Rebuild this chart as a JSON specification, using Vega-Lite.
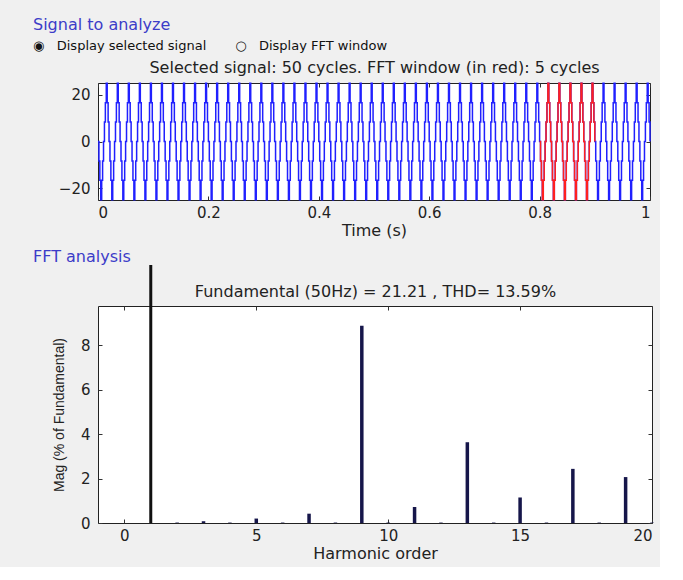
{
"$schema":"https://vega.github.io/schema/vega-lite/v6.json",
"background":"#f0f0f0",
"padding":{"left":32,"top":16,"right":5,"bottom":5},
"config":{"font":"DejaVu Sans","view":{"fill":"white","stroke":"#222222","strokeWidth":1},
"axis":{"tickSize":-4,"tickColor":"#333333","domain":false,"grid":false,"labelFont":"DejaVu Sans","labelFontSize":15,"labelColor":"#222222","labelPadding":9,"titleFont":"DejaVu Sans","titleFontSize":16,"titleFontWeight":"normal","titleColor":"#222222"},
"axisY":{"labelPadding":12},
"concat":{"spacing":9}},
"vconcat":[
{
"title":{"text":"Signal to analyze","subtitle":"◉\u00a0\u00a0\u00a0Display selected signal\u00a0\u00a0\u00a0\u00a0\u00a0\u00a0\u00a0○\u00a0\u00a0\u00a0Display FFT window","anchor":"start","frame":"group","dx":-65,"font":"DejaVu Sans","color":"#3c3cc8","fontSize":16,"fontWeight":"normal","subtitleFont":"DejaVu Sans","subtitleColor":"#111111","subtitleFontSize":13,"subtitlePadding":7,"offset":7},
"width":552,"height":117,
"data":{"values":[
{"t":0.00,"v":0},{"t":0.00167,"v":-8.3},{"t":0.00333,"v":-16.5},{"t":0.005,"v":-24.8},{"t":0.00667,"v":-16.5},{"t":0.00833,"v":-8.3},{"t":0.01,"v":0},{"t":0.01167,"v":8.3},{"t":0.01333,"v":16.5},{"t":0.015,"v":24.8},{"t":0.01667,"v":16.5},{"t":0.01833,"v":8.3},
{"t":0.02,"v":0},{"t":0.02167,"v":-8.3},{"t":0.02333,"v":-16.5},{"t":0.025,"v":-24.8},{"t":0.02667,"v":-16.5},{"t":0.02833,"v":-8.3},{"t":0.03,"v":0},{"t":0.03167,"v":8.3},{"t":0.03333,"v":16.5},{"t":0.035,"v":24.8},{"t":0.03667,"v":16.5},{"t":0.03833,"v":8.3},
{"t":0.04,"v":0},{"t":0.04167,"v":-8.3},{"t":0.04333,"v":-16.5},{"t":0.045,"v":-24.8},{"t":0.04667,"v":-16.5},{"t":0.04833,"v":-8.3},{"t":0.05,"v":0},{"t":0.05167,"v":8.3},{"t":0.05333,"v":16.5},{"t":0.055,"v":24.8},{"t":0.05667,"v":16.5},{"t":0.05833,"v":8.3},
{"t":0.06,"v":0},{"t":0.06167,"v":-8.3},{"t":0.06333,"v":-16.5},{"t":0.065,"v":-24.8},{"t":0.06667,"v":-16.5},{"t":0.06833,"v":-8.3},{"t":0.07,"v":0},{"t":0.07167,"v":8.3},{"t":0.07333,"v":16.5},{"t":0.075,"v":24.8},{"t":0.07667,"v":16.5},{"t":0.07833,"v":8.3},
{"t":0.08,"v":0},{"t":0.08167,"v":-8.3},{"t":0.08333,"v":-16.5},{"t":0.085,"v":-24.8},{"t":0.08667,"v":-16.5},{"t":0.08833,"v":-8.3},{"t":0.09,"v":0},{"t":0.09167,"v":8.3},{"t":0.09333,"v":16.5},{"t":0.095,"v":24.8},{"t":0.09667,"v":16.5},{"t":0.09833,"v":8.3},
{"t":0.10,"v":0},{"t":0.10167,"v":-8.3},{"t":0.10333,"v":-16.5},{"t":0.105,"v":-24.8},{"t":0.10667,"v":-16.5},{"t":0.10833,"v":-8.3},{"t":0.11,"v":0},{"t":0.11167,"v":8.3},{"t":0.11333,"v":16.5},{"t":0.115,"v":24.8},{"t":0.11667,"v":16.5},{"t":0.11833,"v":8.3},
{"t":0.12,"v":0},{"t":0.12167,"v":-8.3},{"t":0.12333,"v":-16.5},{"t":0.125,"v":-24.8},{"t":0.12667,"v":-16.5},{"t":0.12833,"v":-8.3},{"t":0.13,"v":0},{"t":0.13167,"v":8.3},{"t":0.13333,"v":16.5},{"t":0.135,"v":24.8},{"t":0.13667,"v":16.5},{"t":0.13833,"v":8.3},
{"t":0.14,"v":0},{"t":0.14167,"v":-8.3},{"t":0.14333,"v":-16.5},{"t":0.145,"v":-24.8},{"t":0.14667,"v":-16.5},{"t":0.14833,"v":-8.3},{"t":0.15,"v":0},{"t":0.15167,"v":8.3},{"t":0.15333,"v":16.5},{"t":0.155,"v":24.8},{"t":0.15667,"v":16.5},{"t":0.15833,"v":8.3},
{"t":0.16,"v":0},{"t":0.16167,"v":-8.3},{"t":0.16333,"v":-16.5},{"t":0.165,"v":-24.8},{"t":0.16667,"v":-16.5},{"t":0.16833,"v":-8.3},{"t":0.17,"v":0},{"t":0.17167,"v":8.3},{"t":0.17333,"v":16.5},{"t":0.175,"v":24.8},{"t":0.17667,"v":16.5},{"t":0.17833,"v":8.3},
{"t":0.18,"v":0},{"t":0.18167,"v":-8.3},{"t":0.18333,"v":-16.5},{"t":0.185,"v":-24.8},{"t":0.18667,"v":-16.5},{"t":0.18833,"v":-8.3},{"t":0.19,"v":0},{"t":0.19167,"v":8.3},{"t":0.19333,"v":16.5},{"t":0.195,"v":24.8},{"t":0.19667,"v":16.5},{"t":0.19833,"v":8.3},
{"t":0.20,"v":0},{"t":0.20167,"v":-8.3},{"t":0.20333,"v":-16.5},{"t":0.205,"v":-24.8},{"t":0.20667,"v":-16.5},{"t":0.20833,"v":-8.3},{"t":0.21,"v":0},{"t":0.21167,"v":8.3},{"t":0.21333,"v":16.5},{"t":0.215,"v":24.8},{"t":0.21667,"v":16.5},{"t":0.21833,"v":8.3},
{"t":0.22,"v":0},{"t":0.22167,"v":-8.3},{"t":0.22333,"v":-16.5},{"t":0.225,"v":-24.8},{"t":0.22667,"v":-16.5},{"t":0.22833,"v":-8.3},{"t":0.23,"v":0},{"t":0.23167,"v":8.3},{"t":0.23333,"v":16.5},{"t":0.235,"v":24.8},{"t":0.23667,"v":16.5},{"t":0.23833,"v":8.3},
{"t":0.24,"v":0},{"t":0.24167,"v":-8.3},{"t":0.24333,"v":-16.5},{"t":0.245,"v":-24.8},{"t":0.24667,"v":-16.5},{"t":0.24833,"v":-8.3},{"t":0.25,"v":0},{"t":0.25167,"v":8.3},{"t":0.25333,"v":16.5},{"t":0.255,"v":24.8},{"t":0.25667,"v":16.5},{"t":0.25833,"v":8.3},
{"t":0.26,"v":0},{"t":0.26167,"v":-8.3},{"t":0.26333,"v":-16.5},{"t":0.265,"v":-24.8},{"t":0.26667,"v":-16.5},{"t":0.26833,"v":-8.3},{"t":0.27,"v":0},{"t":0.27167,"v":8.3},{"t":0.27333,"v":16.5},{"t":0.275,"v":24.8},{"t":0.27667,"v":16.5},{"t":0.27833,"v":8.3},
{"t":0.28,"v":0},{"t":0.28167,"v":-8.3},{"t":0.28333,"v":-16.5},{"t":0.285,"v":-24.8},{"t":0.28667,"v":-16.5},{"t":0.28833,"v":-8.3},{"t":0.29,"v":0},{"t":0.29167,"v":8.3},{"t":0.29333,"v":16.5},{"t":0.295,"v":24.8},{"t":0.29667,"v":16.5},{"t":0.29833,"v":8.3},
{"t":0.30,"v":0},{"t":0.30167,"v":-8.3},{"t":0.30333,"v":-16.5},{"t":0.305,"v":-24.8},{"t":0.30667,"v":-16.5},{"t":0.30833,"v":-8.3},{"t":0.31,"v":0},{"t":0.31167,"v":8.3},{"t":0.31333,"v":16.5},{"t":0.315,"v":24.8},{"t":0.31667,"v":16.5},{"t":0.31833,"v":8.3},
{"t":0.32,"v":0},{"t":0.32167,"v":-8.3},{"t":0.32333,"v":-16.5},{"t":0.325,"v":-24.8},{"t":0.32667,"v":-16.5},{"t":0.32833,"v":-8.3},{"t":0.33,"v":0},{"t":0.33167,"v":8.3},{"t":0.33333,"v":16.5},{"t":0.335,"v":24.8},{"t":0.33667,"v":16.5},{"t":0.33833,"v":8.3},
{"t":0.34,"v":0},{"t":0.34167,"v":-8.3},{"t":0.34333,"v":-16.5},{"t":0.345,"v":-24.8},{"t":0.34667,"v":-16.5},{"t":0.34833,"v":-8.3},{"t":0.35,"v":0},{"t":0.35167,"v":8.3},{"t":0.35333,"v":16.5},{"t":0.355,"v":24.8},{"t":0.35667,"v":16.5},{"t":0.35833,"v":8.3},
{"t":0.36,"v":0},{"t":0.36167,"v":-8.3},{"t":0.36333,"v":-16.5},{"t":0.365,"v":-24.8},{"t":0.36667,"v":-16.5},{"t":0.36833,"v":-8.3},{"t":0.37,"v":0},{"t":0.37167,"v":8.3},{"t":0.37333,"v":16.5},{"t":0.375,"v":24.8},{"t":0.37667,"v":16.5},{"t":0.37833,"v":8.3},
{"t":0.38,"v":0},{"t":0.38167,"v":-8.3},{"t":0.38333,"v":-16.5},{"t":0.385,"v":-24.8},{"t":0.38667,"v":-16.5},{"t":0.38833,"v":-8.3},{"t":0.39,"v":0},{"t":0.39167,"v":8.3},{"t":0.39333,"v":16.5},{"t":0.395,"v":24.8},{"t":0.39667,"v":16.5},{"t":0.39833,"v":8.3},
{"t":0.40,"v":0},{"t":0.40167,"v":-8.3},{"t":0.40333,"v":-16.5},{"t":0.405,"v":-24.8},{"t":0.40667,"v":-16.5},{"t":0.40833,"v":-8.3},{"t":0.41,"v":0},{"t":0.41167,"v":8.3},{"t":0.41333,"v":16.5},{"t":0.415,"v":24.8},{"t":0.41667,"v":16.5},{"t":0.41833,"v":8.3},
{"t":0.42,"v":0},{"t":0.42167,"v":-8.3},{"t":0.42333,"v":-16.5},{"t":0.425,"v":-24.8},{"t":0.42667,"v":-16.5},{"t":0.42833,"v":-8.3},{"t":0.43,"v":0},{"t":0.43167,"v":8.3},{"t":0.43333,"v":16.5},{"t":0.435,"v":24.8},{"t":0.43667,"v":16.5},{"t":0.43833,"v":8.3},
{"t":0.44,"v":0},{"t":0.44167,"v":-8.3},{"t":0.44333,"v":-16.5},{"t":0.445,"v":-24.8},{"t":0.44667,"v":-16.5},{"t":0.44833,"v":-8.3},{"t":0.45,"v":0},{"t":0.45167,"v":8.3},{"t":0.45333,"v":16.5},{"t":0.455,"v":24.8},{"t":0.45667,"v":16.5},{"t":0.45833,"v":8.3},
{"t":0.46,"v":0},{"t":0.46167,"v":-8.3},{"t":0.46333,"v":-16.5},{"t":0.465,"v":-24.8},{"t":0.46667,"v":-16.5},{"t":0.46833,"v":-8.3},{"t":0.47,"v":0},{"t":0.47167,"v":8.3},{"t":0.47333,"v":16.5},{"t":0.475,"v":24.8},{"t":0.47667,"v":16.5},{"t":0.47833,"v":8.3},
{"t":0.48,"v":0},{"t":0.48167,"v":-8.3},{"t":0.48333,"v":-16.5},{"t":0.485,"v":-24.8},{"t":0.48667,"v":-16.5},{"t":0.48833,"v":-8.3},{"t":0.49,"v":0},{"t":0.49167,"v":8.3},{"t":0.49333,"v":16.5},{"t":0.495,"v":24.8},{"t":0.49667,"v":16.5},{"t":0.49833,"v":8.3},
{"t":0.50,"v":0},{"t":0.50167,"v":-8.3},{"t":0.50333,"v":-16.5},{"t":0.505,"v":-24.8},{"t":0.50667,"v":-16.5},{"t":0.50833,"v":-8.3},{"t":0.51,"v":0},{"t":0.51167,"v":8.3},{"t":0.51333,"v":16.5},{"t":0.515,"v":24.8},{"t":0.51667,"v":16.5},{"t":0.51833,"v":8.3},
{"t":0.52,"v":0},{"t":0.52167,"v":-8.3},{"t":0.52333,"v":-16.5},{"t":0.525,"v":-24.8},{"t":0.52667,"v":-16.5},{"t":0.52833,"v":-8.3},{"t":0.53,"v":0},{"t":0.53167,"v":8.3},{"t":0.53333,"v":16.5},{"t":0.535,"v":24.8},{"t":0.53667,"v":16.5},{"t":0.53833,"v":8.3},
{"t":0.54,"v":0},{"t":0.54167,"v":-8.3},{"t":0.54333,"v":-16.5},{"t":0.545,"v":-24.8},{"t":0.54667,"v":-16.5},{"t":0.54833,"v":-8.3},{"t":0.55,"v":0},{"t":0.55167,"v":8.3},{"t":0.55333,"v":16.5},{"t":0.555,"v":24.8},{"t":0.55667,"v":16.5},{"t":0.55833,"v":8.3},
{"t":0.56,"v":0},{"t":0.56167,"v":-8.3},{"t":0.56333,"v":-16.5},{"t":0.565,"v":-24.8},{"t":0.56667,"v":-16.5},{"t":0.56833,"v":-8.3},{"t":0.57,"v":0},{"t":0.57167,"v":8.3},{"t":0.57333,"v":16.5},{"t":0.575,"v":24.8},{"t":0.57667,"v":16.5},{"t":0.57833,"v":8.3},
{"t":0.58,"v":0},{"t":0.58167,"v":-8.3},{"t":0.58333,"v":-16.5},{"t":0.585,"v":-24.8},{"t":0.58667,"v":-16.5},{"t":0.58833,"v":-8.3},{"t":0.59,"v":0},{"t":0.59167,"v":8.3},{"t":0.59333,"v":16.5},{"t":0.595,"v":24.8},{"t":0.59667,"v":16.5},{"t":0.59833,"v":8.3},
{"t":0.60,"v":0},{"t":0.60167,"v":-8.3},{"t":0.60333,"v":-16.5},{"t":0.605,"v":-24.8},{"t":0.60667,"v":-16.5},{"t":0.60833,"v":-8.3},{"t":0.61,"v":0},{"t":0.61167,"v":8.3},{"t":0.61333,"v":16.5},{"t":0.615,"v":24.8},{"t":0.61667,"v":16.5},{"t":0.61833,"v":8.3},
{"t":0.62,"v":0},{"t":0.62167,"v":-8.3},{"t":0.62333,"v":-16.5},{"t":0.625,"v":-24.8},{"t":0.62667,"v":-16.5},{"t":0.62833,"v":-8.3},{"t":0.63,"v":0},{"t":0.63167,"v":8.3},{"t":0.63333,"v":16.5},{"t":0.635,"v":24.8},{"t":0.63667,"v":16.5},{"t":0.63833,"v":8.3},
{"t":0.64,"v":0},{"t":0.64167,"v":-8.3},{"t":0.64333,"v":-16.5},{"t":0.645,"v":-24.8},{"t":0.64667,"v":-16.5},{"t":0.64833,"v":-8.3},{"t":0.65,"v":0},{"t":0.65167,"v":8.3},{"t":0.65333,"v":16.5},{"t":0.655,"v":24.8},{"t":0.65667,"v":16.5},{"t":0.65833,"v":8.3},
{"t":0.66,"v":0},{"t":0.66167,"v":-8.3},{"t":0.66333,"v":-16.5},{"t":0.665,"v":-24.8},{"t":0.66667,"v":-16.5},{"t":0.66833,"v":-8.3},{"t":0.67,"v":0},{"t":0.67167,"v":8.3},{"t":0.67333,"v":16.5},{"t":0.675,"v":24.8},{"t":0.67667,"v":16.5},{"t":0.67833,"v":8.3},
{"t":0.68,"v":0},{"t":0.68167,"v":-8.3},{"t":0.68333,"v":-16.5},{"t":0.685,"v":-24.8},{"t":0.68667,"v":-16.5},{"t":0.68833,"v":-8.3},{"t":0.69,"v":0},{"t":0.69167,"v":8.3},{"t":0.69333,"v":16.5},{"t":0.695,"v":24.8},{"t":0.69667,"v":16.5},{"t":0.69833,"v":8.3},
{"t":0.70,"v":0},{"t":0.70167,"v":-8.3},{"t":0.70333,"v":-16.5},{"t":0.705,"v":-24.8},{"t":0.70667,"v":-16.5},{"t":0.70833,"v":-8.3},{"t":0.71,"v":0},{"t":0.71167,"v":8.3},{"t":0.71333,"v":16.5},{"t":0.715,"v":24.8},{"t":0.71667,"v":16.5},{"t":0.71833,"v":8.3},
{"t":0.72,"v":0},{"t":0.72167,"v":-8.3},{"t":0.72333,"v":-16.5},{"t":0.725,"v":-24.8},{"t":0.72667,"v":-16.5},{"t":0.72833,"v":-8.3},{"t":0.73,"v":0},{"t":0.73167,"v":8.3},{"t":0.73333,"v":16.5},{"t":0.735,"v":24.8},{"t":0.73667,"v":16.5},{"t":0.73833,"v":8.3},
{"t":0.74,"v":0},{"t":0.74167,"v":-8.3},{"t":0.74333,"v":-16.5},{"t":0.745,"v":-24.8},{"t":0.74667,"v":-16.5},{"t":0.74833,"v":-8.3},{"t":0.75,"v":0},{"t":0.75167,"v":8.3},{"t":0.75333,"v":16.5},{"t":0.755,"v":24.8},{"t":0.75667,"v":16.5},{"t":0.75833,"v":8.3},
{"t":0.76,"v":0},{"t":0.76167,"v":-8.3},{"t":0.76333,"v":-16.5},{"t":0.765,"v":-24.8},{"t":0.76667,"v":-16.5},{"t":0.76833,"v":-8.3},{"t":0.77,"v":0},{"t":0.77167,"v":8.3},{"t":0.77333,"v":16.5},{"t":0.775,"v":24.8},{"t":0.77667,"v":16.5},{"t":0.77833,"v":8.3},
{"t":0.78,"v":0},{"t":0.78167,"v":-8.3},{"t":0.78333,"v":-16.5},{"t":0.785,"v":-24.8},{"t":0.78667,"v":-16.5},{"t":0.78833,"v":-8.3},{"t":0.79,"v":0},{"t":0.79167,"v":8.3},{"t":0.79333,"v":16.5},{"t":0.795,"v":24.8},{"t":0.79667,"v":16.5},{"t":0.79833,"v":8.3},
{"t":0.80,"v":0},{"t":0.80167,"v":-8.3},{"t":0.80333,"v":-16.5},{"t":0.805,"v":-24.8},{"t":0.80667,"v":-16.5},{"t":0.80833,"v":-8.3},{"t":0.81,"v":0},{"t":0.81167,"v":8.3},{"t":0.81333,"v":16.5},{"t":0.815,"v":24.8},{"t":0.81667,"v":16.5},{"t":0.81833,"v":8.3},
{"t":0.82,"v":0},{"t":0.82167,"v":-8.3},{"t":0.82333,"v":-16.5},{"t":0.825,"v":-24.8},{"t":0.82667,"v":-16.5},{"t":0.82833,"v":-8.3},{"t":0.83,"v":0},{"t":0.83167,"v":8.3},{"t":0.83333,"v":16.5},{"t":0.835,"v":24.8},{"t":0.83667,"v":16.5},{"t":0.83833,"v":8.3},
{"t":0.84,"v":0},{"t":0.84167,"v":-8.3},{"t":0.84333,"v":-16.5},{"t":0.845,"v":-24.8},{"t":0.84667,"v":-16.5},{"t":0.84833,"v":-8.3},{"t":0.85,"v":0},{"t":0.85167,"v":8.3},{"t":0.85333,"v":16.5},{"t":0.855,"v":24.8},{"t":0.85667,"v":16.5},{"t":0.85833,"v":8.3},
{"t":0.86,"v":0},{"t":0.86167,"v":-8.3},{"t":0.86333,"v":-16.5},{"t":0.865,"v":-24.8},{"t":0.86667,"v":-16.5},{"t":0.86833,"v":-8.3},{"t":0.87,"v":0},{"t":0.87167,"v":8.3},{"t":0.87333,"v":16.5},{"t":0.875,"v":24.8},{"t":0.87667,"v":16.5},{"t":0.87833,"v":8.3},
{"t":0.88,"v":0},{"t":0.88167,"v":-8.3},{"t":0.88333,"v":-16.5},{"t":0.885,"v":-24.8},{"t":0.88667,"v":-16.5},{"t":0.88833,"v":-8.3},{"t":0.89,"v":0},{"t":0.89167,"v":8.3},{"t":0.89333,"v":16.5},{"t":0.895,"v":24.8},{"t":0.89667,"v":16.5},{"t":0.89833,"v":8.3},
{"t":0.90,"v":0},{"t":0.90167,"v":-8.3},{"t":0.90333,"v":-16.5},{"t":0.905,"v":-24.8},{"t":0.90667,"v":-16.5},{"t":0.90833,"v":-8.3},{"t":0.91,"v":0},{"t":0.91167,"v":8.3},{"t":0.91333,"v":16.5},{"t":0.915,"v":24.8},{"t":0.91667,"v":16.5},{"t":0.91833,"v":8.3},
{"t":0.92,"v":0},{"t":0.92167,"v":-8.3},{"t":0.92333,"v":-16.5},{"t":0.925,"v":-24.8},{"t":0.92667,"v":-16.5},{"t":0.92833,"v":-8.3},{"t":0.93,"v":0},{"t":0.93167,"v":8.3},{"t":0.93333,"v":16.5},{"t":0.935,"v":24.8},{"t":0.93667,"v":16.5},{"t":0.93833,"v":8.3},
{"t":0.94,"v":0},{"t":0.94167,"v":-8.3},{"t":0.94333,"v":-16.5},{"t":0.945,"v":-24.8},{"t":0.94667,"v":-16.5},{"t":0.94833,"v":-8.3},{"t":0.95,"v":0},{"t":0.95167,"v":8.3},{"t":0.95333,"v":16.5},{"t":0.955,"v":24.8},{"t":0.95667,"v":16.5},{"t":0.95833,"v":8.3},
{"t":0.96,"v":0},{"t":0.96167,"v":-8.3},{"t":0.96333,"v":-16.5},{"t":0.965,"v":-24.8},{"t":0.96667,"v":-16.5},{"t":0.96833,"v":-8.3},{"t":0.97,"v":0},{"t":0.97167,"v":8.3},{"t":0.97333,"v":16.5},{"t":0.975,"v":24.8},{"t":0.97667,"v":16.5},{"t":0.97833,"v":8.3},
{"t":0.98,"v":0},{"t":0.98167,"v":-8.3},{"t":0.98333,"v":-16.5},{"t":0.985,"v":-24.8},{"t":0.98667,"v":-16.5},{"t":0.98833,"v":-8.3},{"t":0.99,"v":0},{"t":0.99167,"v":8.3},{"t":0.99333,"v":16.5},{"t":0.995,"v":24.8},{"t":0.99667,"v":16.5},{"t":0.99833,"v":8.3},
{"t":1,"v":0}
]},
"layer":[
{"mark":{"type":"line","interpolate":"step-after","color":"#2020ff","strokeWidth":1.5},
"encoding":{
"x":{"field":"t","type":"quantitative","scale":{"domain":[0,1],"nice":false},"axis":{"orient":"bottom","values":[0,0.2,0.4,0.6,0.8,1],"format":"~g","title":"Time (s)","titlePadding":2}},
"y":{"field":"v","type":"quantitative","scale":{"domain":[-24.9,24.9],"nice":false,"zero":false},"axis":{"orient":"left","values":[-20,0,20],"title":null}}}},
{"transform":[{"filter":"datum.t >= 0.8 && datum.t <= 0.9"}],
"mark":{"type":"line","interpolate":"step-after","color":"#ff2020","strokeWidth":1.5},
"encoding":{
"x":{"field":"t","type":"quantitative","axis":{"orient":"top","values":[0,0.2,0.4,0.6,0.8,1],"labels":false,"title":"Selected signal: 50 cycles. FFT window (in red): 5 cycles","titlePadding":7}},
"y":{"field":"v","type":"quantitative","axis":{"orient":"right","values":[-20,0,20],"labels":false,"title":null}}}}
]
},
{
"title":{"text":"FFT analysis","anchor":"start","frame":"group","dx":-65,"font":"DejaVu Sans","color":"#3c3cc8","fontSize":16,"fontWeight":"normal","offset":-1},
"width":554,"height":217,
"resolve":{"scale":{"y":"independent"}},
"layer":[
{"data":{"values":[
{"h":0,"m":0},{"h":2,"m":0.02},{"h":3,"m":0.08},{"h":4,"m":0.02},{"h":5,"m":0.2},{"h":6,"m":0.02},{"h":7,"m":0.42},{"h":8,"m":0.02},{"h":9,"m":8.89},{"h":10,"m":0.02},{"h":11,"m":0.72},{"h":12,"m":0.02},{"h":13,"m":3.64},{"h":14,"m":0.02},{"h":15,"m":1.15},{"h":16,"m":0.02},{"h":17,"m":2.44},{"h":18,"m":0.02},{"h":19,"m":2.07},{"h":20,"m":0.02}
]},
"mark":{"type":"rule","color":"#16164a","strokeWidth":3.5},
"encoding":{
"x":{"field":"h","type":"quantitative","scale":{"domain":[-1,20],"nice":false},"axis":{"orient":"bottom","values":[0,5,10,15,20],"title":"Harmonic order","titlePadding":2}},
"y":{"field":"m","type":"quantitative","scale":{"domain":[0,9.78],"nice":false},"axis":{"orient":"left","values":[0,2,4,6,8],"title":"Mag (% of Fundamental)","titleFont":"Liberation Sans","titleFontSize":14,"titlePadding":14}},
"y2":{"datum":0}}},
{"data":{"values":[{"h":1,"m":100}]},
"mark":{"type":"rule","color":"#111111","strokeWidth":3},
"encoding":{
"x":{"field":"h","type":"quantitative","axis":{"orient":"top","values":[0,5,10,15,20],"labels":false,"title":"Fundamental (50Hz) = 21.21 , THD= 13.59%","titlePadding":6}},
"y":{"field":"m","type":"quantitative","scale":{"domain":[0,100],"range":[217,-41],"nice":false},"axis":null},
"y2":{"datum":0}}},
{"data":{"values":[
{"h":0,"m":0},{"h":20,"m":0.02}
]},
"mark":{"type":"rule","opacity":0},
"encoding":{
"x":{"field":"h","type":"quantitative","axis":null},
"y":{"field":"m","type":"quantitative","scale":{"domain":[0,9.78],"nice":false},"axis":{"orient":"right","values":[0,2,4,6,8],"labels":false,"title":null}},
"y2":{"datum":0}}}
]
}
]
}
